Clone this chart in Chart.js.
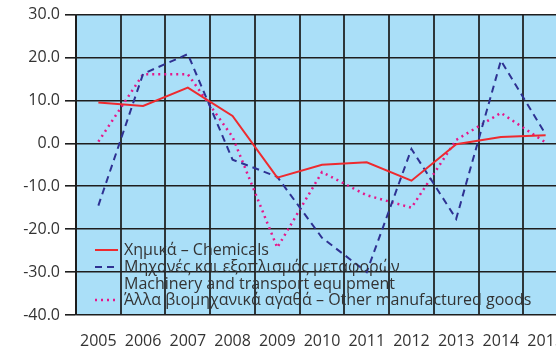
<!DOCTYPE html>
<html><head><meta charset="utf-8">
<script src="https://cdn.jsdelivr.net/npm/chart.js@4/dist/chart.umd.min.js"></script>
<style>html,body{margin:0;padding:0;overflow:hidden;width:556px;height:355px;background:#fff}
canvas{display:block}</style>
</head><body>
<canvas id="c" width="556" height="355"></canvas>
<script>
const years = ['2005','2006','2007','2008','2009','2010','2011','2012','2013','2014','2015'];
const chemicals = [9.5, 8.7, 13.0, 6.4, -8.0, -5.0, -4.4, -8.7, -0.2, 1.5, 1.9];
const machinery = [-14.5, 16.2, 20.8, -3.8, -7.8, -22.0, -30.0, -1.3, -17.6, 19.3, 2.1];
const otherGoods = [0.4, 16.1, 16.1, 1.5, -24.3, -6.7, -12.1, -15.0, 0.8, 7.1, 0.2];
const seriesLabels = ['Χημικά – Chemicals', 'Μηχανές και εξοπλισμός μεταφορών', 'Machinery and transport equipment', 'Άλλα βιομηχανικά αγαθά – Other manufactured goods'];

const FONT = '"Open Sans", sans-serif';
const PLOT_RIGHT = 568; // plot area extends past the visible window, as in the source image

const extendPlugin = {
  id: 'extendRight',
  afterLayout(chart) {
    const x = chart.scales.x;
    x.right = PLOT_RIGHT;
    x.width = PLOT_RIGHT - x.left;
    x.configure();
    chart.chartArea.right = PLOT_RIGHT;
    chart.chartArea.width = PLOT_RIGHT - chart.chartArea.left;
  }
};
const bgPlugin = {
  id: 'bg',
  beforeDraw(chart) {
    const a = chart.chartArea, ctx = chart.ctx;
    ctx.save(); ctx.fillStyle = '#aadff8';
    ctx.fillRect(a.left, a.top, a.right - a.left, a.bottom - a.top);
    ctx.restore();
  }
};
const legendPlugin = {
  id: 'customLegend',
  afterDatasetsDraw(chart) {
    const ctx = chart.ctx;
    ctx.save();
    ctx.font = '16px ' + FONT;
    ctx.fillStyle = '#333';
    ctx.textBaseline = 'middle';
    const ys = [250, 267, 284, 300];
    const sym = [chart.data.datasets[0], chart.data.datasets[1], null, chart.data.datasets[2]];
    for (let i = 0; i < 4; i++) {
      const d = sym[i];
      if (d) {
        ctx.save();
        ctx.strokeStyle = d.borderColor; ctx.lineWidth = d.borderWidth;
        ctx.setLineDash(d.borderDash || []);
        ctx.beginPath(); ctx.moveTo(95, ys[i]); ctx.lineTo(118, ys[i]); ctx.stroke();
        ctx.restore();
      }
      ctx.fillText(seriesLabels[i], 124, ys[i]);
    }
    ctx.restore();
  }
};

new Chart(document.getElementById('c'), {
  type: 'line',
  data: {
    labels: years,
    datasets: [
      { label: seriesLabels[0], data: chemicals, borderColor: '#ee2a2f', borderWidth: 2, pointRadius: 0, tension: 0, fill: false },
      { label: seriesLabels[1], data: machinery, borderColor: '#2e3192', borderWidth: 2, borderDash: [7, 5], pointRadius: 0, tension: 0, fill: false },
      { label: seriesLabels[3], data: otherGoods, borderColor: '#e6168a', borderWidth: 2.5, borderDash: [2, 4], pointRadius: 0, tension: 0, fill: false }
    ]
  },
  options: {
    responsive: false,
    animation: false,
    layout: { padding: { top: 13, right: 2, left: 0, bottom: 0 } },
    plugins: { legend: { display: false }, tooltip: { enabled: false } },
    scales: {
      x: {
        offset: true,
        grid: { offset: true, color: 'rgba(25,25,25,0.85)', lineWidth: 2, drawTicks: false },
        border: { display: false },
        ticks: { color: '#333', font: { family: FONT, size: 16 }, padding: 17, maxRotation: 0, autoSkip: false },
        afterFit(s) { s.height = 40; }
      },
      y: {
        min: -40, max: 30,
        ticks: { stepSize: 10, color: '#333', font: { family: FONT, size: 16 }, padding: 5, callback: v => v.toFixed(1) },
        grid: { color: '#1e1e1e', lineWidth: 1.6, tickLength: 11 },
        border: { color: 'rgba(25,25,25,0.85)', width: 2 },
        afterFit(s) { s.width = 76; }
      }
    }
  },
  plugins: [extendPlugin, bgPlugin, legendPlugin]
});
</script>
</body></html>
